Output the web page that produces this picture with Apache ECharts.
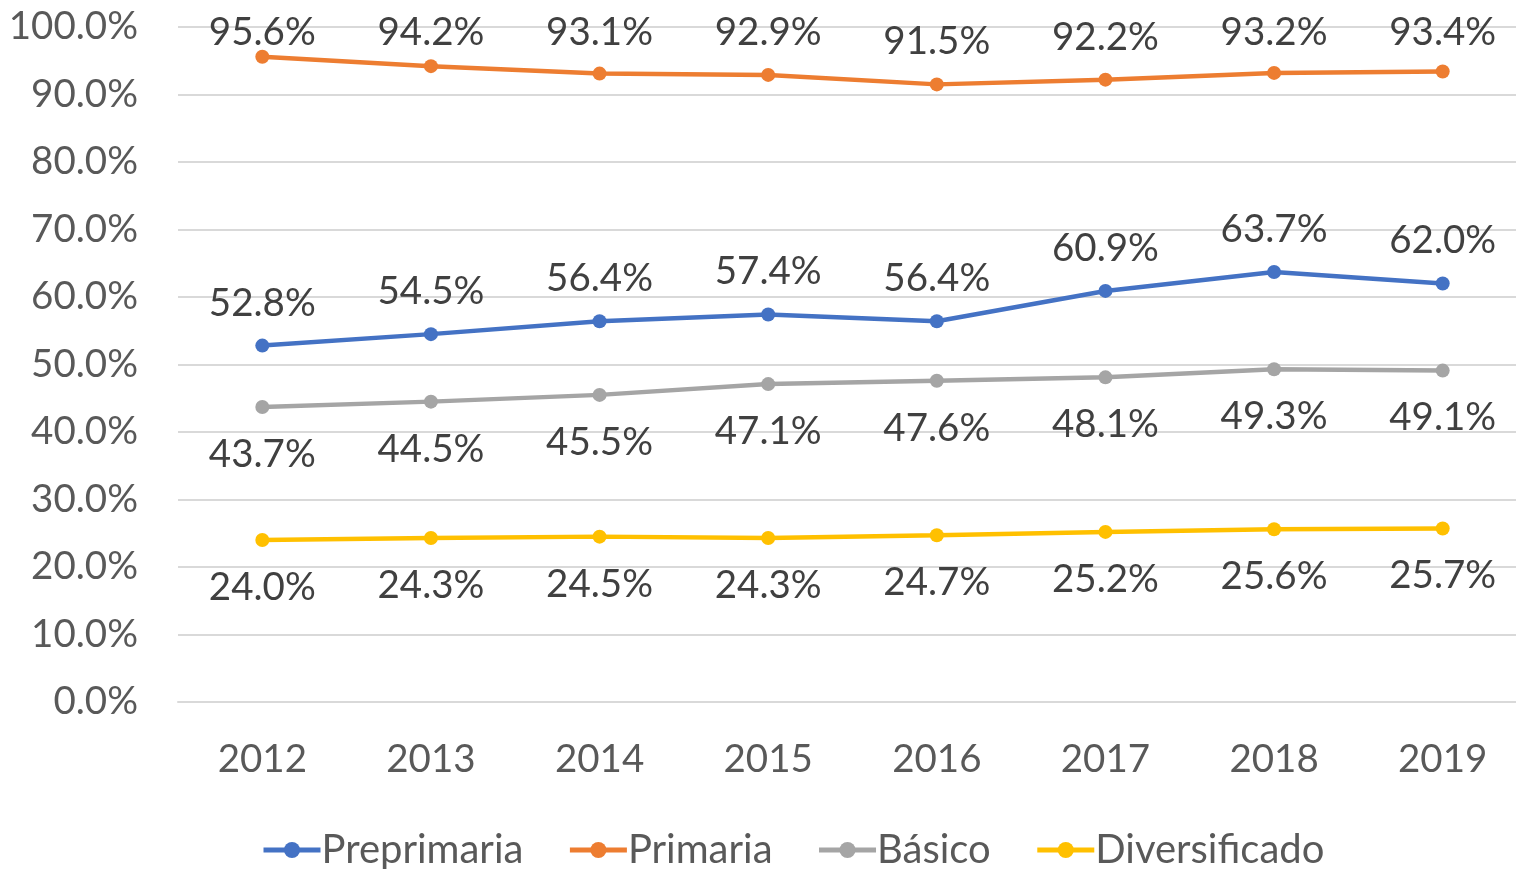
<!DOCTYPE html>
<html>
<head>
<meta charset="utf-8">
<script src="https://cdn.jsdelivr.net/npm/echarts@6/dist/echarts.min.js"></script>
<style>html,body{margin:0;padding:0;background:#fff;}#c{width:1516px;height:869px;}</style>
</head>
<body>
<div id="c"></div>
<script>
var years = ['2012','2013','2014','2015','2016','2017','2018','2019'];
var preprimaria = [52.8, 54.5, 56.4, 57.4, 56.4, 60.9, 63.7, 62.0];
var primaria = [95.6, 94.2, 93.1, 92.9, 91.5, 92.2, 93.2, 93.4];
var basico = [43.7, 44.5, 45.5, 47.1, 47.6, 48.1, 49.3, 49.1];
var diversificado = [24.0, 24.3, 24.5, 24.3, 24.7, 25.2, 25.6, 25.7];

var FONT = 'Lato';
var FS = 38.5;
function mk(name, data, color, pos, dist, clamp){
  var s = {
    name: name, type: 'line', data: data,
    symbol: 'circle', symbolSize: 14,
    lineStyle: {color: color, width: 4.5},
    itemStyle: {color: color},
    label: {show: true, position: pos, distance: dist, fontFamily: FONT, fontSize: FS,
      color: '#404040', formatter: function(p){ return p.value.toFixed(1) + '%'; }},
    emphasis: {disabled: true},
    animation: false
  };
  if (clamp) {
    s.labelLayout = function(p){
      var r = p.labelRect;
      var cy = r.y + r.height / 2;
      return {x: r.x + r.width / 2, y: Math.max(cy, 33), align: 'center', verticalAlign: 'middle'};
    };
  }
  return s;
}
var chart = echarts.init(document.getElementById('c'));
chart.setOption({
  animation: false,
  grid: {left: 178, width: 1349, top: 27, bottom: 167, containLabel: false, outerBoundsMode: 'none'},
  legend: {
    bottom: -6, left: 256, itemWidth: 57, itemHeight: 20, itemGap: 44,
    lineStyle: {width: 5},
    textStyle: {fontFamily: FONT, fontSize: 40, color: '#595959', padding: [0,0,0,-4]},
    data: ['Preprimaria','Primaria','Básico','Diversificado']
  },
  xAxis: {
    type: 'category', data: years, boundaryGap: true,
    axisLine: {lineStyle: {color: '#d9d9d9', width: 2}},
    axisTick: {show: false},
    axisLabel: {fontFamily: FONT, fontSize: FS, color: '#595959', margin: 38}
  },
  yAxis: {
    type: 'value', min: 0, max: 100, interval: 10,
    axisLine: {show: false}, axisTick: {show: false},
    splitLine: {lineStyle: {color: '#d9d9d9', width: 2}},
    axisLabel: {fontFamily: FONT, fontSize: FS, color: '#595959', margin: 40,
      formatter: function(v){ return v.toFixed(1) + '%'; }}
  },
  series: [
    mk('Preprimaria', preprimaria, '#4472C4', 'top', 16, false),
    mk('Primaria', primaria, '#ED7D31', 'top', 16, true),
    mk('Básico', basico, '#A5A5A5', 'bottom', 21, false),
    mk('Diversificado', diversificado, '#FFC000', 'bottom', 21, false)
  ]
});
</script>
</body>
</html>
